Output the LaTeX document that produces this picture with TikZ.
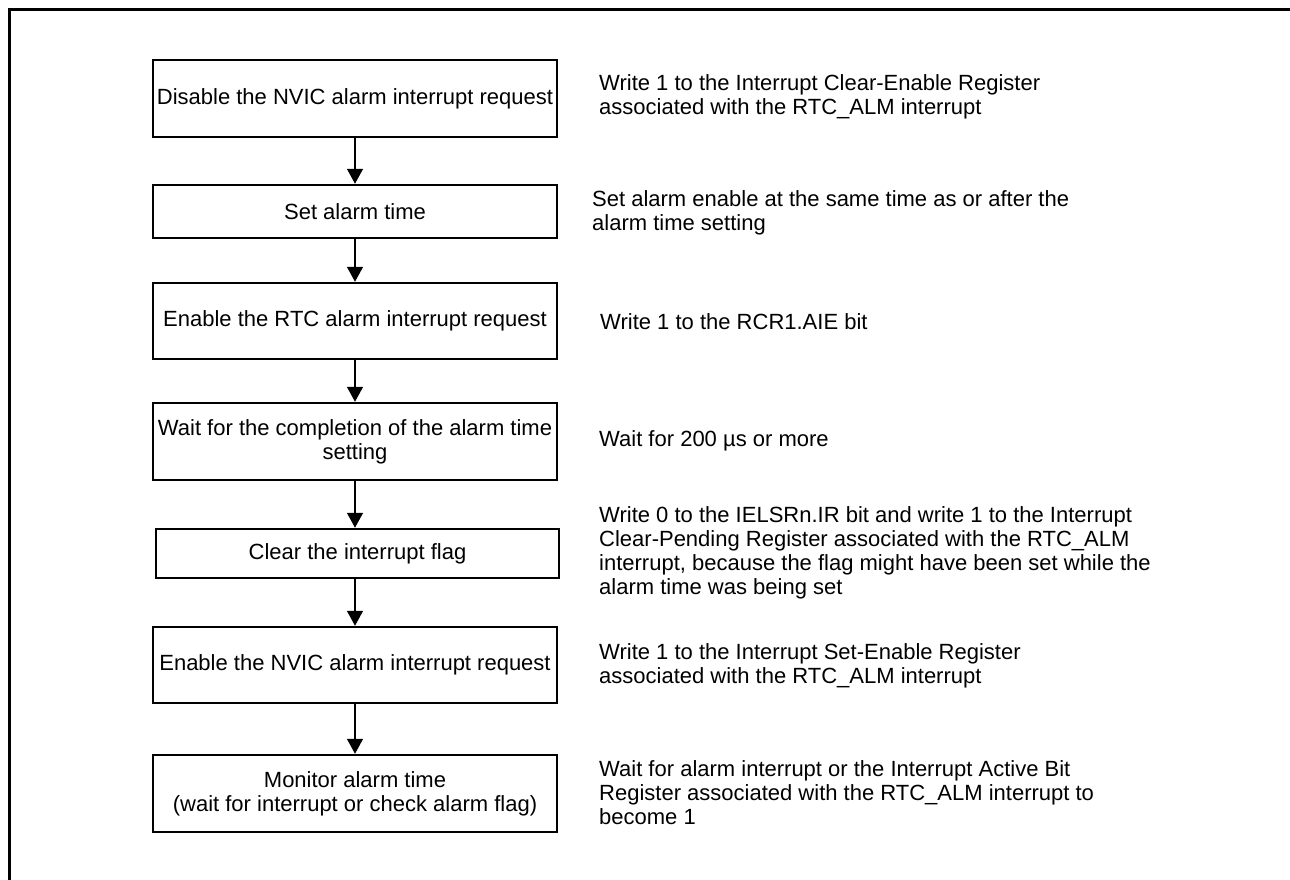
\documentclass[tikz,border=0pt]{standalone}
\usepackage{fontspec}
\setmainfont{Liberation Sans}
\usetikzlibrary{arrows.meta}
\tikzset{
  stepbox/.style={draw=black, line width=2.5pt, rectangle, inner sep=0pt, minimum width=404pt, align=center, font=\fontsize{22}{24}\selectfont},
  note/.style={anchor=west, inner sep=0pt, align=left, font=\fontsize{22}{24}\selectfont},
  flow/.style={line width=1.5pt, -{Triangle[width=16pt,length=15pt]}}
}
\begin{document}
\begin{tikzpicture}[x=1pt,y=-1pt]
\useasboundingbox (0,0) rectangle (1290,880);
\draw[line width=3pt] (9.5,880) -- (9.5,9.5) -- (1290,9.5);

\node[stepbox, minimum height=77pt] (b1) at (355,98.5) {Disable the NVIC alarm interrupt request};
\node[stepbox, minimum height=53pt] (b2) at (355,211.5) {Set alarm time};
\node[stepbox, minimum height=76pt] (b3) at (355,321) {Enable the RTC alarm interrupt request};
\node[stepbox, minimum height=77pt] (b4) at (355,441.5) {Wait for the completion of the alarm time\\setting};
\node[stepbox, minimum height=49pt, minimum width=403pt] (b5) at (357.5,553.5) {Clear the interrupt flag};
\node[stepbox, minimum height=76pt] (b6) at (355,665) {Enable the NVIC alarm interrupt request};
\node[stepbox, minimum height=77pt] (b7) at (355,793.5) {Monitor alarm time\\(wait for interrupt or check alarm flag)};

\node[note] (n1) at (599,97) {Write 1 to the Interrupt Clear-Enable Register\\associated with the RTC\_ALM interrupt};
\node[note] (n2) at (592,212.5) {Set alarm enable at the same time as or after the\\alarm time setting};
\node[note] (n3) at (600,322) {Write 1 to the RCR1.AIE bit};
\node[note] (n4) at (599,441) {Wait for 200 µs or more};
\node[note] (n5) at (599,553) {Write 0 to the IELSRn.IR bit and write 1 to the Interrupt\\Clear-Pending Register associated with the RTC\_ALM\\interrupt, because the flag might have been set while the\\alarm time was being set};
\node[note] (n6) at (599,666) {Write 1 to the Interrupt Set-Enable Register\\associated with the RTC\_ALM interrupt};
\node[note] (n7) at (599,793) {Wait for alarm interrupt or the Interrupt Active Bit\\Register associated with the RTC\_ALM interrupt to\\become 1};

\draw[flow] (b1.south) -- (b2.north);
\draw[flow] (b2.south) -- (b3.north);
\draw[flow] (b3.south) -- (b4.north);
\draw[flow] (b4.south) -- (b4.south |- b5.north);
\draw[flow] (b5.south -| b4.south) -- (b6.north);
\draw[flow] (b6.south) -- (b7.north);
\end{tikzpicture}
\end{document}
